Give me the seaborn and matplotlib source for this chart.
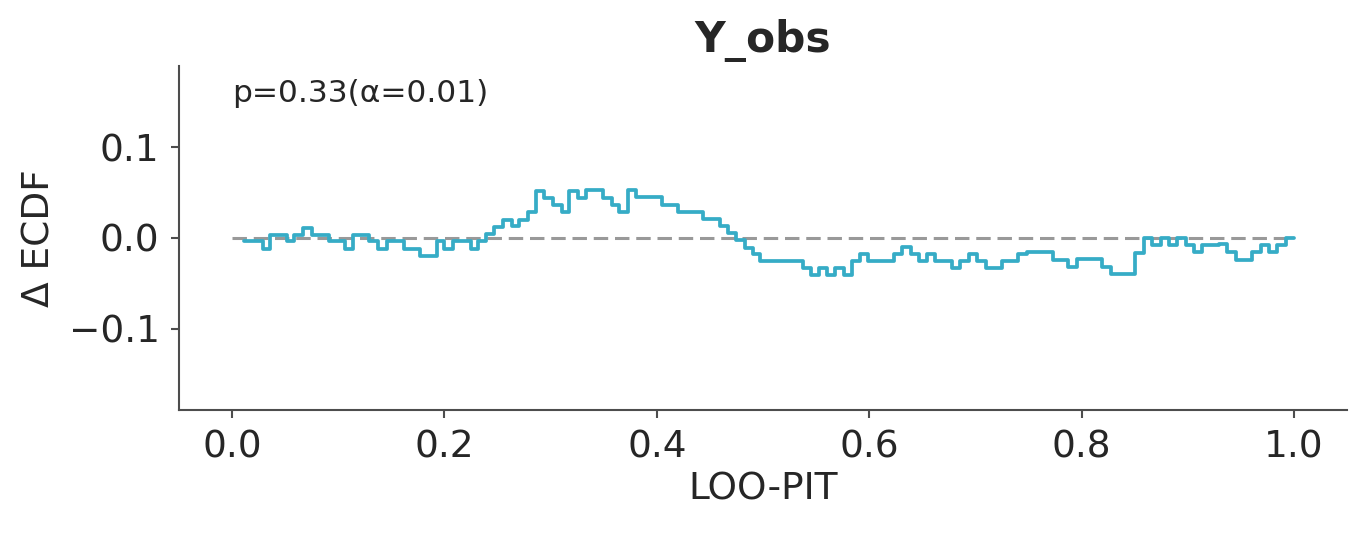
"""
plot.py
LOO-PIT ECDF difference plot for Y_obs.
"""
import matplotlib
matplotlib.use("Agg")
import matplotlib.pyplot as plt
import pandas as pd
import seaborn as sns

# step positions (LOO-PIT) and ECDF difference held from each position onward
pit_x = [
    0.0113, 0.0290, 0.0355, 0.0517, 0.0585, 0.0670, 0.0748, 0.0910, 0.1060, 0.1140,
    0.1293, 0.1370, 0.1460, 0.1620, 0.1770, 0.1930, 0.1996, 0.2080, 0.2250, 0.2320,
    0.2395, 0.2470, 0.2550, 0.2634, 0.2706, 0.2784, 0.2863, 0.2941, 0.3020, 0.3104,
    0.3176, 0.3255, 0.3333, 0.3497, 0.3575, 0.3647, 0.3726, 0.3804, 0.4046, 0.4203,
    0.4432, 0.4595, 0.4673, 0.4746, 0.4831, 0.4903, 0.4970, 0.5374, 0.5449, 0.5531,
    0.5606, 0.5678, 0.5763, 0.5841, 0.5913, 0.5992, 0.6237, 0.6312, 0.6390, 0.6469,
    0.6547, 0.6620, 0.6783, 0.6855, 0.6940, 0.7018, 0.7097, 0.7253, 0.7404, 0.7483,
    0.7734, 0.7875, 0.7955, 0.8197, 0.8276, 0.8505, 0.8585, 0.8664, 0.8745, 0.8823,
    0.8901, 0.8980, 0.9058, 0.9137, 0.9294, 0.9372, 0.9451, 0.9601, 0.9686, 0.9765,
    0.9843, 0.9922, 1.0000,
]
delta_ecdf = [
    -0.0037, -0.0117, 0.0037, -0.0037, 0.0037, 0.0112, 0.0037, -0.0037, -0.0117, 0.0037,
    -0.0037, -0.0117, -0.0037, -0.0117, -0.0194, -0.0037, -0.0117, -0.0037, -0.0117, -0.0037,
    0.0042, 0.0120, 0.0201, 0.0128, 0.0201, 0.0289, 0.0520, 0.0440, 0.0366, 0.0289,
    0.0520, 0.0440, 0.0531, 0.0440, 0.0366, 0.0289, 0.0531, 0.0454, 0.0366, 0.0289,
    0.0209, 0.0136, 0.0060, -0.0025, -0.0105, -0.0180, -0.0256, -0.0333, -0.0414, -0.0333,
    -0.0414, -0.0333, -0.0414, -0.0256, -0.0176, -0.0256, -0.0176, -0.0098, -0.0176, -0.0256,
    -0.0176, -0.0256, -0.0333, -0.0256, -0.0176, -0.0256, -0.0333, -0.0256, -0.0176, -0.0157,
    -0.0242, -0.0322, -0.0233, -0.0318, -0.0400, -0.0165, -0.0005, -0.0080, 0.0000, -0.0077,
    0.0000, -0.0077, -0.0157, -0.0077, -0.0066, -0.0157, -0.0238, -0.0157, -0.0077, -0.0157,
    -0.0077, 0.0000, 0.0000,
]
ref_x = [0.0, 1.0]
ref_y = [0.0, 0.0]

title = "Y_obs"
p_text = "p=0.33(α=0.01)"
x_ticks = [0.0, 0.2, 0.4, 0.6, 0.8, 1.0]
y_ticks = [-0.1, 0.0, 0.1]

LINE_COLOR = "#36acc6"
REF_COLOR = "#999999"
SPINE_COLOR = "#4d4d4d"

sns.set_theme(style="ticks")
plt.rcParams["font.family"] = ["DejaVu Sans"]
plt.rcParams["lines.scale_dashes"] = False

df = pd.DataFrame({"pit": pit_x, "delta": delta_ecdf})

fig = plt.figure(figsize=(13.66, 5.36), dpi=100)
ax = fig.add_axes([179 / 1366, 1 - 410 / 536, (1347 - 179) / 1366, (410 - 66) / 536])

ax.plot(ref_x, ref_y, color=REF_COLOR, lw=2.2, linestyle=(0, (10.4, 4.9)), zorder=1)
sns.lineplot(data=df, x="pit", y="delta", ax=ax, color=LINE_COLOR, lw=2.7,
             drawstyle="steps-post", estimator=None, zorder=2)

ax.set_xlim(-0.05, 1.05)
ax.set_ylim(-0.19, 0.19)
ax.set_xticks(x_ticks)
ax.set_yticks(y_ticks)
ax.set_xticklabels([f"{t:.1f}" for t in x_ticks])
ax.set_yticklabels([f"{t:.1f}".replace("-", "\u2212") for t in y_ticks])
ax.tick_params(labelsize=27, length=6, width=1.5, pad=8, color=SPINE_COLOR,
               labelcolor="#262626")
ax.set_xlabel("LOO-PIT", fontsize=27, color="#262626", labelpad=4)
ax.set_ylabel("\u0394 ECDF", fontsize=27, color="#262626", labelpad=8)
ax.set_title(title, fontsize=30.5, fontweight="bold", color="#262626", pad=10)

ax.text(0.0, 0.1505, p_text, fontsize=22.5, color="#262626", ha="left", va="baseline")

sns.despine(ax=ax)
for side in ("left", "bottom"):
    ax.spines[side].set_color(SPINE_COLOR)
    ax.spines[side].set_linewidth(1.5)

fig.savefig("out.png", dpi=100)
plt.close(fig)
